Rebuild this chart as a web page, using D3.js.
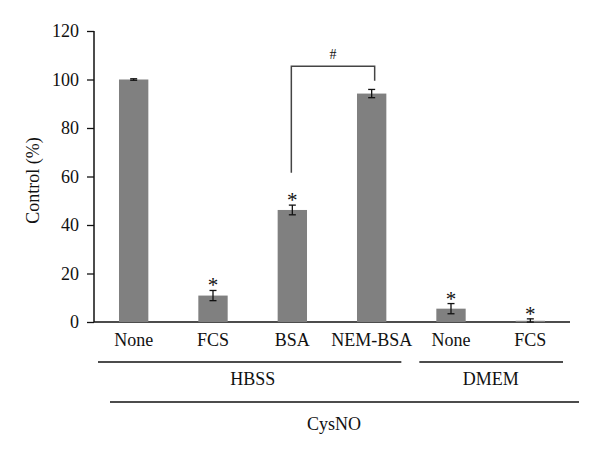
<!DOCTYPE html>
<html>
<head>
<meta charset="utf-8">
<script src="https://cdn.jsdelivr.net/npm/d3@7"></script>
<style>
  body { margin: 0; background: #fff; }
  text { font-family: "Liberation Serif", "DejaVu Serif", serif; fill: #111; }
</style>
</head>
<body>
<svg id="chart"></svg>
<script>
// data
const categories = ["None", "FCS", "BSA", "NEM-BSA", "None", "FCS"];
const values = [100, 10.9, 46.2, 94.2, 5.5, 0.5];
const errors = [0.3, 2.1, 2.0, 1.7, 2.1, 0.8];
const starred = [false, true, true, false, true, true];
const yTicks = [0, 20, 40, 60, 80, 100, 120];
const groups = [
  {name: "HBSS", from: 0, to: 3},
  {name: "DMEM", from: 4, to: 5}
];
const outerGroup = {name: "CysNO", from: 0, to: 5};

const svgWidth = 600, svgHeight = 456;
const margin = {top: 31, left: 94, right: 30, bottom: 134};

const svg = d3.select("#chart")
    .attr("width", svgWidth)
    .attr("height", svgHeight);

const idx = categories.map((d, i) => i);
const x = d3.scaleBand()
    .domain(idx)
    .range([margin.left, svgWidth - margin.right])
    .paddingInner(0.63)
    .paddingOuter(0.315);
const y = d3.scaleLinear()
    .domain([0, 120])
    .range([svgHeight - margin.bottom, margin.top]);

const bw = x.bandwidth();

// y axis
const yAxis = svg.append("g")
    .attr("transform", `translate(${margin.left},0)`)
    .call(d3.axisLeft(y).tickValues(yTicks).tickSize(7).tickPadding(8));
yAxis.select(".domain").attr("stroke", "#111").attr("stroke-width", 1.5)
    .attr("d", `M0,${y(120)}V${y(0)}`);
yAxis.selectAll(".tick line").attr("stroke", "#111").attr("stroke-width", 1.3);
yAxis.selectAll(".tick text").style("font-size", "18px")
    .style("font-family", "Liberation Serif, serif").attr("fill", "#111");

// x baseline
svg.append("line")
    .attr("x1", margin.left).attr("x2", svgWidth - margin.right)
    .attr("y1", y(0)).attr("y2", y(0))
    .attr("stroke", "#111").attr("stroke-width", 1.5);

// bars
svg.append("g").selectAll("rect")
    .data(values)
    .join("rect")
    .attr("x", (d, i) => x(i))
    .attr("y", d => y(d))
    .attr("width", bw)
    .attr("height", d => y(0) - y(d))
    .attr("fill", "#808080");

// error bars
const eb = svg.append("g").attr("stroke", "#111").attr("stroke-width", 1.3);
values.forEach((v, i) => {
  const cx = x(i) + bw / 2;
  const lo = y(Math.max(0, v - errors[i])), hi = y(v + errors[i]);
  eb.append("line").attr("x1", cx).attr("x2", cx).attr("y1", lo).attr("y2", hi);
  eb.append("line").attr("x1", cx - 3.5).attr("x2", cx + 3.5).attr("y1", lo).attr("y2", lo);
  eb.append("line").attr("x1", cx - 3.5).attr("x2", cx + 3.5).attr("y1", hi).attr("y2", hi);
});

// asterisks
svg.append("g").selectAll("text")
    .data(values.map((v, i) => ({v, i})).filter(d => starred[d.i]))
    .join("text")
    .attr("x", d => x(d.i) + bw / 2)
    .attr("y", d => y(d.v + errors[d.i]) + 2)
    .attr("text-anchor", "middle")
    .style("font-size", "21px")
    .text("*");

// bracket between BSA and NEM-BSA
const bx1 = x(2) + bw / 2 - 1, bx2 = x(3) + bw / 2 + 3;
svg.append("path")
    .attr("d", `M${bx1},${y(61.5)}V${y(105.5)}H${bx2}V${y(99.5)}`)
    .attr("fill", "none").attr("stroke", "#444").attr("stroke-width", 1.5);
svg.append("text")
    .attr("x", (bx1 + bx2) / 2).attr("y", y(105.5) - 7)
    .attr("text-anchor", "middle").style("font-size", "14px").text("#");

// category labels
svg.append("g").selectAll("text")
    .data(categories)
    .join("text")
    .attr("x", (d, i) => x(i) + bw / 2)
    .attr("y", y(0) + 24)
    .attr("text-anchor", "middle")
    .style("font-size", "18px")
    .text(d => d);

// group lines and labels
const groupPad = {HBSS: [-21, 15], DMEM: [-17, 18], CysNO: [-9, 34]};
function drawGroup(g, ly) {
  const p = groupPad[g.name];
  svg.append("line")
    .attr("x1", x(g.from) + p[0]).attr("x2", x(g.to) + bw + p[1])
    .attr("y1", ly).attr("y2", ly)
    .attr("stroke", "#111").attr("stroke-width", 1.3);
}
groups.forEach(g => {
  drawGroup(g, y(0) + 40);
  svg.append("text")
    .attr("x", (x(g.from) + x(g.to) + bw) / 2)
    .attr("y", y(0) + 63)
    .attr("text-anchor", "middle")
    .style("font-size", "18px")
    .text(g.name);
});
drawGroup(outerGroup, y(0) + 80);
svg.append("text")
    .attr("x", (x(2) + x(3) + bw) / 2 + 2)
    .attr("y", y(0) + 108)
    .attr("text-anchor", "middle")
    .style("font-size", "18px")
    .text(outerGroup.name);

// y label
svg.append("text")
    .attr("transform", `translate(39,${(y(0) + y(120)) / 2 + 4}) rotate(-90)`)
    .attr("text-anchor", "middle")
    .style("font-size", "18px")
    .text("Control (%)");
</script>
</body>
</html>
